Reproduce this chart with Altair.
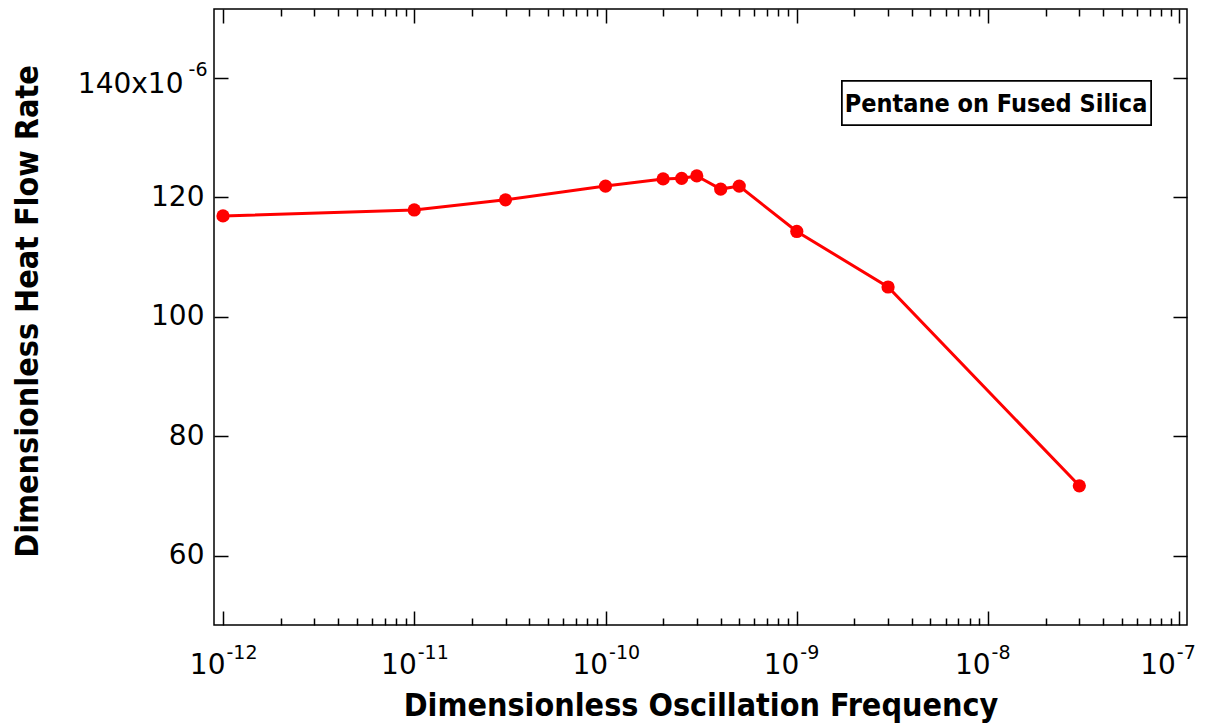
import altair as alt
import pandas as pd

# ---- data ----
freq = [1e-12, 1e-11, 3e-11, 1e-10, 2e-10, 2.5e-10, 3e-10, 4e-10, 5e-10, 1e-9, 3e-9, 3e-8]
heat = [116.9, 117.9, 119.6, 121.9, 123.1, 123.2, 123.6, 121.4, 121.9, 114.3, 105.0, 71.7]  # x 1e-6

x_major = [1e-12, 1e-11, 1e-10, 1e-9, 1e-8, 1e-7]
x_minor = [k * d for d in x_major[:-1] for k in range(2, 10)]
y_major = [60, 80, 100, 120, 140]

x_title = "Dimensionless Oscillation Frequency"
y_title = "Dimensionless Heat Flow Rate"
note = "Pentane on Fused Silica"

df = pd.DataFrame({"freq": freq, "heat": heat})

XDOM = [8.974e-13, 1.0965e-7]
YDOM = [48.39, 151.56]
W, H = 973, 616

TICK_FONT = "DejaVu Sans"
TITLE_FONT = "Liberation Sans Narrow, DejaVu Sans Condensed, Roboto Condensed, Liberation Sans"
MAJ, MIN = 14, 7
LBL, EXP = 28, 19
LAST = "datum.value > 5e-8"

xscale = alt.Scale(type="log", domain=XDOM, nice=False)
yscale = alt.Scale(domain=YDOM, nice=False, zero=False)

common = dict(domain=False, grid=False, tickColor="black", tickWidth=1.5,
              labelColor="black", labelFlush=False, labelOverlap=False)


def X(axis):
    return alt.X("freq:Q", scale=xscale, axis=axis, title=None)


def Y(axis):
    return alt.Y("heat:Q", scale=yscale, axis=axis, title=None)


# main layer: data line + bottom "10" labels + left labels
x_main = alt.Axis(orient="bottom", values=x_major, labelExpr="'10'", offset=-MAJ, tickSize=MAJ,
                  labelFont=TICK_FONT, labelFontSize=LBL, labelAlign="right", labelBaseline="top",
                  labelOffset={"condition": {"test": LAST, "value": -4}, "value": 2},
                  labelPadding=26,
                  title=x_title, titleFont=TITLE_FONT, titleFontSize=32, titleFontWeight="bold",
                  titleColor="black", titlePadding=11, **common)
y_main = alt.Axis(orient="left", values=y_major,
                  labelExpr="datum.value == 140 ? '' : datum.label", offset=-MAJ, tickSize=MAJ,
                  labelFont=TICK_FONT, labelFontSize=LBL, labelPadding=10,
                  title=y_title, titleFont=TITLE_FONT, titleFontSize=32, titleFontWeight="bold",
                  titleColor="black", titlePadding=106, titleY=302, **common)

line = alt.Chart(df).mark_line(color="#ff0000", strokeWidth=3).encode(
    x=alt.X("freq:Q", scale=xscale, axis=x_main),
    y=alt.Y("heat:Q", scale=yscale, axis=y_main),
)
pts = alt.Chart(df).mark_point(filled=True, color="#ff0000", size=175, opacity=1).encode(
    x=X(None), y=Y(None)
)

# exponent labels on x, "140x10" on y
x_exp = alt.Axis(orient="bottom", values=x_major,
                 labelExpr="'' + round(log(datum.value) / LN10)", ticks=False, tickSize=0, offset=0,
                 labelFont=TICK_FONT, labelFontSize=EXP, labelAlign="left", labelBaseline="top",
                 labelOffset={"condition": {"test": LAST, "value": -3}, "value": 3},
                 labelPadding=18, **common)
y_lab140 = alt.Axis(orient="left", values=[140], labelExpr="'140x10'", ticks=False, tickSize=0,
                    offset=0, labelFont=TICK_FONT, labelFontSize=LBL, labelPadding=31,
                    labelOffset=6, **common)
l2 = alt.Chart(df).mark_point(opacity=0).encode(x=X(x_exp), y=Y(y_lab140))

# bottom minor ticks, "-6" exponent
x_min_b = alt.Axis(orient="bottom", values=x_minor, labels=False, offset=-MIN, tickSize=MIN, **common)
y_exp = alt.Axis(orient="left", values=[140], labelExpr="'-6'", ticks=False, tickSize=0, offset=0,
                 labelFont=TICK_FONT, labelFontSize=EXP, labelPadding=7, labelOffset=-9, **common)
l3 = alt.Chart(df).mark_point(opacity=0).encode(x=X(x_min_b), y=Y(y_exp))

# top major ticks, right major ticks
x_top = alt.Axis(orient="top", values=x_major, labels=False, offset=-MAJ, tickSize=MAJ, **common)
y_right = alt.Axis(orient="right", values=y_major, labels=False, offset=-MAJ, tickSize=MAJ, **common)
l4 = alt.Chart(df).mark_point(opacity=0).encode(x=X(x_top), y=Y(y_right))

# top minor ticks
x_top_min = alt.Axis(orient="top", values=x_minor, labels=False, offset=-MIN, tickSize=MIN, **common)
l5 = alt.Chart(df).mark_point(opacity=0).encode(x=X(x_top_min), y=Y(None))

# annotation box
box = alt.Chart(df).mark_rect(fill="white", stroke="black", strokeWidth=1.5).encode(
    x=alt.value(628), x2=alt.value(937), y=alt.value(72), y2=alt.value(116)
)
txt = alt.Chart(pd.DataFrame({"t": [note]})).mark_text(
    font=TITLE_FONT, fontSize=25, fontWeight="bold", color="black", align="center", baseline="middle"
).encode(x=alt.value(782), y=alt.value(95), text="t:N")

chart = (
    alt.layer(line, pts, l2, l3, l4, l5, box, txt)
    .resolve_scale(x="shared", y="shared")
    .resolve_axis(x="independent", y="independent")
    .properties(width=W, height=H, padding={"left": 3, "top": 0, "right": 0, "bottom": 4},
                background="white")
    .configure_view(stroke="black", strokeWidth=1.5)
)

chart.save("out.html", embed_options={"renderer": "svg", "actions": False})
